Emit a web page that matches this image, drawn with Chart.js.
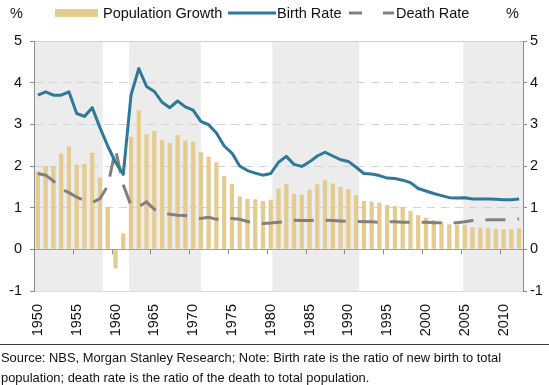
<!DOCTYPE html>
<html><head><meta charset="utf-8">
<script src="https://cdn.jsdelivr.net/npm/chart.js@4"></script>
<style>
html,body{margin:0;padding:0;background:#fff;}
#wrap{position:relative;width:549px;height:385px;overflow:hidden;font-family:"Liberation Sans",Arial,sans-serif;color:#111;}
#c{position:absolute;left:0;top:0;}
.t{position:absolute;white-space:nowrap;font-size:14.5px;line-height:1;}
.sw{position:absolute;}
#sep{position:absolute;left:0;top:344px;width:549px;height:0;border-top:1.5px solid #3a3a3a;}
#src{position:absolute;left:1px;top:348px;font-size:12.9px;line-height:19.5px;white-space:nowrap;color:#111;}
</style></head>
<body>
<div id="wrap">
<canvas id="c" width="549" height="385"></canvas>
<div class="t" style="left:10px;top:6px">%</div>
<div class="sw" style="left:55px;top:9px;width:43px;height:8px;background:#e4cb8f"></div>
<div class="t" style="left:103px;top:6px">Population Growth</div>
<svg class="sw" style="left:228px;top:8px" width="48" height="10"><line x1="0" y1="5" x2="48" y2="5" stroke="#2e7899" stroke-width="3"/></svg>
<div class="t" style="left:277px;top:6px">Birth Rate</div>
<svg class="sw" style="left:349px;top:8px" width="45" height="10"><line x1="0" y1="5" x2="45" y2="5" stroke="#808080" stroke-width="3" stroke-dasharray="13 21"/></svg>
<div class="t" style="left:396px;top:6px">Death Rate</div>
<div class="t" style="left:506px;top:6px">%</div>
<div id="sep"></div>
<div id="src">Source: NBS, Morgan Stanley Research; Note: Birth rate is the ratio of new birth to total<br>population; death rate is the ratio of the death to total population.</div>
</div>
<script>
const years = [];
for (let y = 1950; y <= 2012; y++) years.push(String(y));

const populationGrowth = [1.87,2.00,2.00,2.30,2.47,2.03,2.05,2.32,1.72,1.02,
  -0.46,0.38,2.70,3.33,2.76,2.84,2.62,2.55,2.74,2.61,
  2.58,2.33,2.22,2.09,1.76,1.57,1.27,1.21,1.20,1.16,
  1.19,1.46,1.57,1.33,1.31,1.43,1.56,1.66,1.58,1.50,
  1.44,1.30,1.16,1.15,1.12,1.06,1.04,1.01,0.92,0.82,
  0.76,0.70,0.65,0.60,0.59,0.59,0.53,0.52,0.51,0.49,
  0.48,0.48,0.50];

const birthRate = [3.70,3.78,3.70,3.70,3.78,3.26,3.19,3.40,2.92,2.48,
  2.09,1.80,3.70,4.34,3.91,3.79,3.53,3.40,3.56,3.42,
  3.34,3.07,2.99,2.79,2.48,2.31,2.00,1.89,1.83,1.78,
  1.82,2.09,2.23,2.04,1.99,2.10,2.24,2.33,2.24,2.15,
  2.11,1.97,1.82,1.81,1.77,1.71,1.70,1.66,1.60,1.46,
  1.40,1.34,1.29,1.24,1.23,1.24,1.21,1.21,1.21,1.20,
  1.19,1.19,1.21];

const deathRate = [1.82,1.78,1.64,1.45,1.36,1.25,1.17,1.12,1.22,1.52,
  2.40,1.55,1.05,1.02,1.14,0.96,0.88,0.84,0.82,0.81,
  0.77,0.74,0.77,0.72,0.74,0.74,0.72,0.67,0.63,0.62,
  0.63,0.65,0.67,0.70,0.69,0.69,0.70,0.70,0.69,0.68,
  0.67,0.67,0.66,0.66,0.65,0.66,0.66,0.65,0.65,0.65,
  0.65,0.64,0.64,0.64,0.64,0.66,0.69,0.70,0.71,0.71,
  0.71,0.72,0.73];

const yTicks = [-1,0,1,2,3,4,5];
// shaded periods, as [startYear, endYear] in fractional category units
const shadedPeriods = [[1949.5,1958.36],[1961.75,1971.0],[1980.2,1991.4],[2004.8,2012.5]];

const FONT = '"Liberation Sans", Arial, sans-serif';

const bandsPlugin = {
  id: 'bands',
  beforeDraw(chart) {
    const {ctx, chartArea, scales} = chart;
    ctx.save();
    ctx.fillStyle = '#ececec';
    shadedPeriods.forEach(([a, b]) => {
      const x1 = scales.x.getPixelForValue(a - 1950);
      const x2 = scales.x.getPixelForValue(b - 1950);
      ctx.fillRect(x1, chartArea.top, x2 - x1, chartArea.bottom - chartArea.top);
    });
    ctx.restore();
  },
  beforeDatasetsDraw(chart) {
    const {ctx, scales} = chart;
    const y0 = scales.y.getPixelForValue(0);
    ctx.save();
    ctx.strokeStyle = '#8c8c8c';
    ctx.lineWidth = 1;
    for (let i = 5; i < years.length; i += 5) {
      const x = Math.round(scales.x.getPixelForValue(i - 0.5)) + 0.5;
      ctx.beginPath();
      ctx.moveTo(x, y0);
      ctx.lineTo(x, y0 + 5);
      ctx.stroke();
    }
    ctx.restore();
  }
};

new Chart(document.getElementById('c'), {
  type: 'bar',
  data: {
    labels: years,
    datasets: [
      {
        type: 'line', label: 'Birth Rate', data: birthRate, yAxisID: 'y',
        borderColor: '#2e7899', borderWidth: 3, pointRadius: 0, tension: 0, order: 1,
        borderJoinStyle: 'round'
      },
      {
        type: 'line', label: 'Death Rate', data: deathRate, yAxisID: 'y',
        borderColor: '#808080', borderWidth: 3, pointRadius: 0, tension: 0, order: 2,
        borderDash: [20, 12]
      },
      {
        type: 'bar', label: 'Population Growth', data: populationGrowth, yAxisID: 'y',
        backgroundColor: '#e4cb8f', barPercentage: 0.55, categoryPercentage: 1.0, order: 3
      }
    ]
  },
  options: {
    responsive: false,
    animation: false,
    layout: { padding: { top: 41, bottom: 40, left: 0, right: 0 } },
    plugins: { legend: { display: false }, tooltip: { enabled: false } },
    scales: {
      x: {
        offset: true,
        grid: { display: false },
        border: { display: true, color: '#dcdcdc', width: 1 },
        ticks: {
          autoSkip: false, minRotation: 90, maxRotation: 90, padding: 5,
          color: '#111', font: { family: FONT, size: 14.5 },
          callback: (v, i) => (Number(years[i]) % 5 === 0 ? years[i] : '')
        },
        afterFit: (s) => { s.height = 54; }
      },
      y: {
        position: 'left', min: -1, max: 5,
        afterBuildTicks: (s) => { s.ticks = yTicks.map(v => ({ value: v })); },
        grid: {
          color: (c) => (c.tick && c.tick.value >= 1 && c.tick.value <= 4 ? '#d2d2d2' : 'rgba(0,0,0,0)'),
          tickColor: '#8c8c8c', tickLength: 4, lineWidth: 1
        },
        border: { display: true, color: '#8c8c8c', width: 1, dash: [8, 6] },
        ticks: { color: '#111', padding: 8, font: { family: FONT, size: 14.5 } },
        afterFit: (s) => { s.width = 34; }
      },
      y2: {
        position: 'right', min: -1, max: 5,
        afterBuildTicks: (s) => { s.ticks = yTicks.map(v => ({ value: v })); },
        grid: {
          color: (c) => (c.tick && c.tick.value === 0 ? '#a0a0a0' : (c.tick && c.tick.value === 5 ? '#d0d0d0' : 'rgba(0,0,0,0)')),
          tickColor: '#8c8c8c', tickLength: 4, lineWidth: 1
        },
        border: { display: true, color: '#8c8c8c', width: 1 },
        ticks: { color: '#111', padding: 3, font: { family: FONT, size: 14.5 } },
        afterFit: (s) => { s.width = 26; }
      }
    }
  },
  plugins: [bandsPlugin]
});
</script>
</body></html>
